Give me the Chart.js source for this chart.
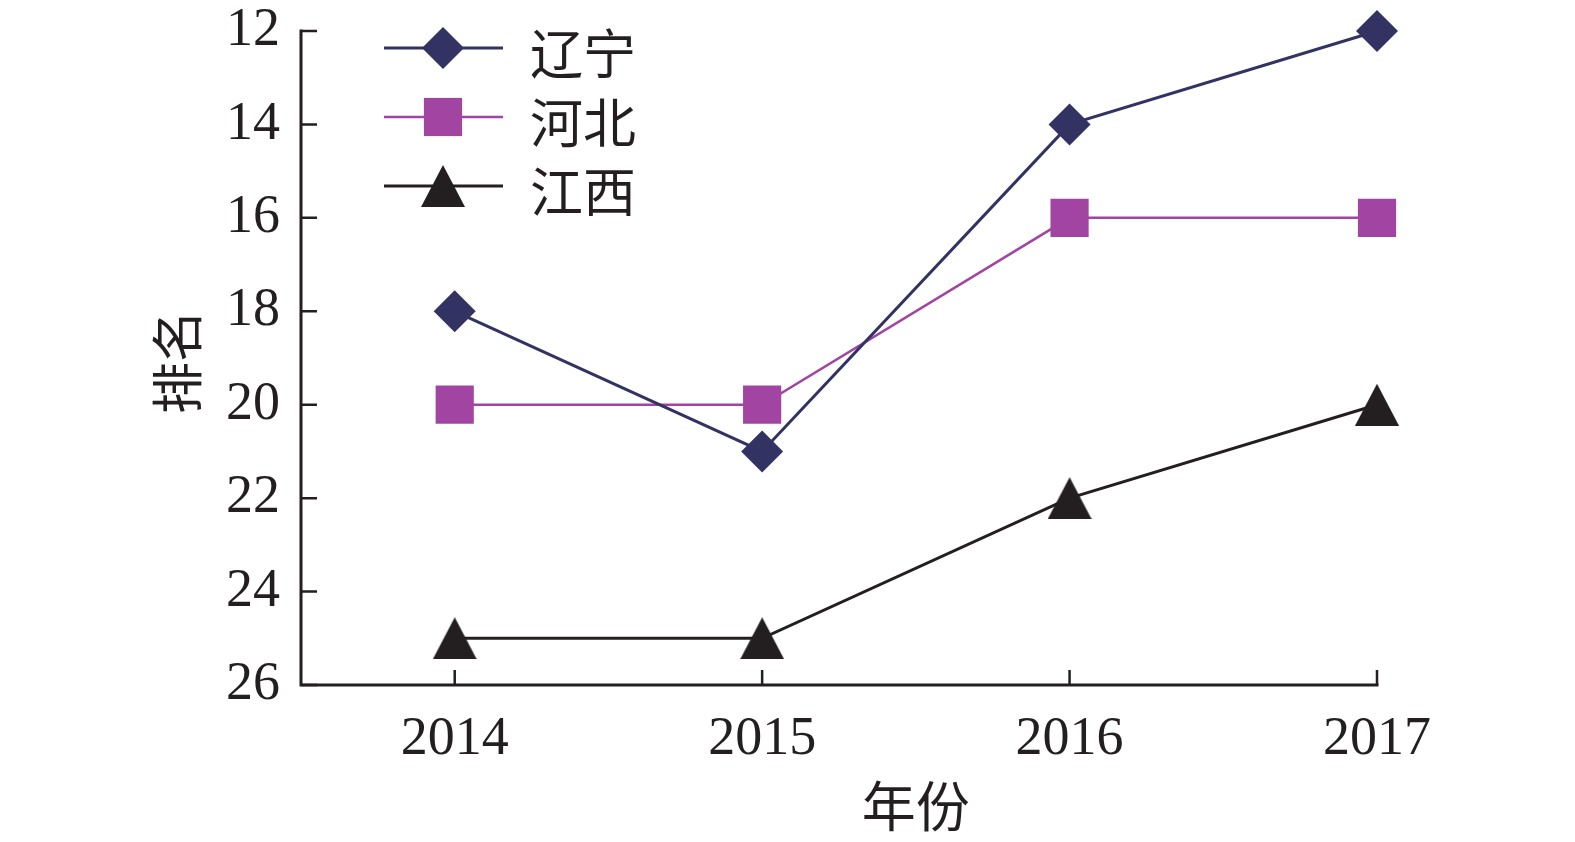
<!DOCTYPE html>
<html><head><meta charset="utf-8">
<script src="https://cdn.jsdelivr.net/npm/chart.js@4/dist/chart.umd.min.js"></script>
<style>html,body{margin:0;padding:0;background:#fff}#wrap{width:1575px;height:842px;position:relative}</style>
</head><body><div id="wrap"><canvas id="c"></canvas></div>
<script>
// ---- data ----
const years = [2014, 2015, 2016, 2017];
const seriesNames = ['辽宁', '河北', '江西'];
const liaoning = [18, 21, 14, 12];
const hebei = [20, 20, 16, 16];
const jiangxi = [25, 25, 22, 20];
const yTickValues = [12, 14, 16, 18, 20, 22, 24, 26];
const xTitle = '年份';
const yTitle = '排名';

// ---- styles ----
const INK = '#231f20';
const NAVY = '#333363';
const PURPLE = '#a245a2';
const NUM_FONT = "'Liberation Serif', 'Times New Roman', serif";
const CJK_FONT = "'Noto Sans CJK SC', 'Liberation Serif', serif";

function triCanvas(w, h, color) {
  const c = document.createElement('canvas');
  c.width = w; c.height = h;
  const g = c.getContext('2d');
  g.fillStyle = color;
  g.beginPath();
  g.moveTo(w / 2, 0); g.lineTo(w, h); g.lineTo(0, h); g.closePath();
  g.fill();
  return c;
}
const triangleImg = triCanvas(44, 42, INK);

function toPts(arr) { return years.map((x, i) => ({ x: x, y: arr[i] })); }

const datasets = [
  { label: seriesNames[0], data: toPts(liaoning), borderColor: NAVY, backgroundColor: NAVY,
    borderWidth: 3, pointStyle: 'rectRot', pointRadius: 21, pointHoverRadius: 21,
    pointBackgroundColor: NAVY, pointBorderWidth: 0, tension: 0, clip: false },
  { label: seriesNames[1], data: toPts(hebei), borderColor: PURPLE, backgroundColor: PURPLE,
    borderWidth: 2.5, pointStyle: 'rect', pointRadius: 27, pointHoverRadius: 27,
    pointBackgroundColor: PURPLE, pointBorderWidth: 0, tension: 0, clip: false },
  { label: seriesNames[2], data: toPts(jiangxi), borderColor: INK, backgroundColor: INK,
    borderWidth: 3, pointStyle: triangleImg, pointRadius: 22, pointHoverRadius: 22,
    pointBackgroundColor: INK, pointBorderWidth: 0, tension: 0, clip: false }
];

function drawMarker(ctx, ds, x, y) {
  ctx.save();
  ctx.fillStyle = ds.pointBackgroundColor;
  const r = ds.pointRadius;
  if (ds.pointStyle === 'rectRot') {
    ctx.beginPath();
    ctx.moveTo(x - r, y); ctx.lineTo(x, y - r); ctx.lineTo(x + r, y); ctx.lineTo(x, y + r);
    ctx.closePath(); ctx.fill();
  } else if (ds.pointStyle === 'rect') {
    const s = r * Math.SQRT1_2;
    ctx.fillRect(x - s, y - s, 2 * s, 2 * s);
  } else if (ds.pointStyle instanceof HTMLCanvasElement) {
    const im = ds.pointStyle;
    ctx.drawImage(im, x - im.width / 2, y - im.height / 2);
  }
  ctx.restore();
}

const decorPlugin = {
  id: 'decor',
  beforeDatasetsDraw(chart) {
    const ctx = chart.ctx;
    const a = chart.chartArea;
    const xs = chart.scales.x, ys = chart.scales.y;
    ctx.save();
    ctx.strokeStyle = INK;
    ctx.lineWidth = 3;
    ctx.lineCap = 'square';
    ctx.beginPath();
    ctx.moveTo(a.left, a.top);
    ctx.lineTo(a.left, a.bottom);
    ctx.lineTo(a.right, a.bottom);
    ctx.stroke();
    ctx.lineCap = 'butt';
    ctx.lineWidth = 2.5;
    ctx.beginPath();
    years.forEach(v => {
      const px = xs.getPixelForValue(v);
      ctx.moveTo(px, a.bottom);
      ctx.lineTo(px, a.bottom - 15);
    });
    yTickValues.forEach(v => {
      const py = ys.getPixelForValue(v);
      ctx.moveTo(a.left, py);
      ctx.lineTo(a.left + 16, py);
    });
    ctx.stroke();
    ctx.restore();
  },
  afterDraw(chart) {
    const ctx = chart.ctx;
    const a = chart.chartArea;
    const xs = chart.scales.x;
    ctx.save();
    ctx.fillStyle = INK;
    ctx.textAlign = 'center';
    ctx.textBaseline = 'middle';
    ctx.font = '54px ' + CJK_FONT;
    const cx = (xs.getPixelForValue(years[0]) + xs.getPixelForValue(years[years.length - 1])) / 2;
    ctx.fillText(xTitle, cx, 806);
    ctx.save();
    ctx.font = '52px ' + CJK_FONT;
    ctx.translate(177, (a.top + a.bottom) / 2 + 4);
    ctx.rotate(-Math.PI / 2);
    ctx.fillText(yTitle, 0, 0);
    ctx.restore();
    const x0 = a.left + 83, lineLen = 119;
    chart.data.datasets.forEach((ds, i) => {
      const y = a.top + 17 + i * 69;
      ctx.strokeStyle = ds.borderColor;
      ctx.lineWidth = ds.borderWidth;
      ctx.beginPath();
      ctx.moveTo(x0, y); ctx.lineTo(x0 + lineLen, y);
      ctx.stroke();
      drawMarker(ctx, ds, x0 + 59, y);
      ctx.fillStyle = INK;
      ctx.textAlign = 'left';
      ctx.textBaseline = 'middle';
      ctx.font = '53px ' + CJK_FONT;
      ctx.fillText(ds.label, a.left + 229, y + 6);
    });
    ctx.restore();
  }
};

new Chart(document.getElementById('c'), {
  type: 'line',
  data: { datasets: datasets },
  plugins: [decorPlugin],
  options: {
    responsive: true,
    maintainAspectRatio: false,
    animation: false,
    devicePixelRatio: 1,
    layout: { padding: { left: 0, top: 31, right: 198, bottom: 0 } },
    plugins: { legend: { display: false }, tooltip: { enabled: false } },
    events: [],
    scales: {
      x: {
        type: 'linear',
        min: 2013.5,
        max: 2017,
        afterBuildTicks: s => { s.ticks = years.map(v => ({ value: v })); },
        afterFit: s => { s.height = 157; },
        grid: { display: false, drawTicks: false },
        border: { display: false },
        ticks: { color: INK, font: { family: NUM_FONT, size: 54 }, padding: 22,
                 autoSkip: false, maxRotation: 0, callback: v => String(v) }
      },
      y: {
        type: 'linear',
        reverse: true,
        min: 12,
        max: 26,
        afterBuildTicks: s => { s.ticks = yTickValues.map(v => ({ value: v })); },
        afterFit: s => { s.width = 301; },
        grid: { display: true, drawOnChartArea: false, drawTicks: true, tickLength: 21,
                color: 'rgba(0,0,0,0)' },
        border: { display: false },
        ticks: { color: INK, font: { family: NUM_FONT, size: 54, lineHeight: 1.1 }, padding: 0,
                 autoSkip: false, callback: v => String(v) }
      }
    }
  }
});
</script>
</body></html>
